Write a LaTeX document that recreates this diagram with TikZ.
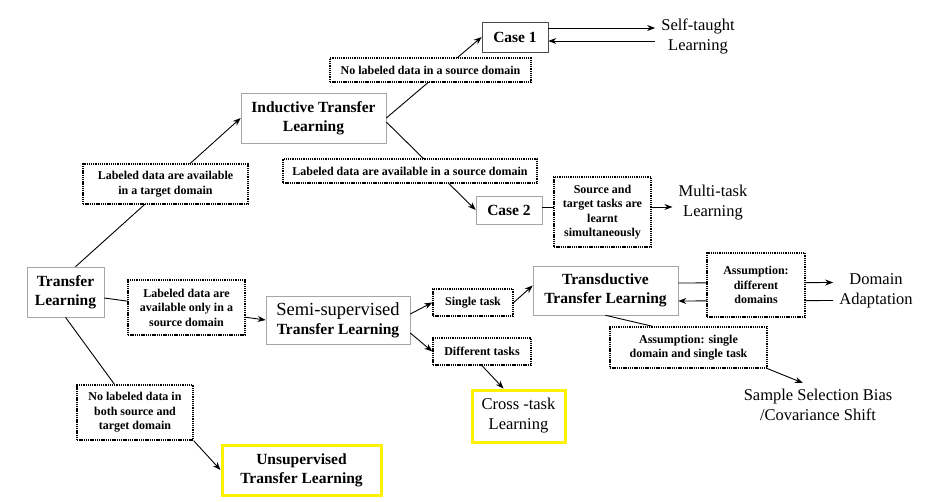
\documentclass[tikz,border=0pt]{standalone}
\usepackage{fontspec}
\setmainfont{Liberation Serif}
\usetikzlibrary{arrows.meta, positioning}

\begin{document}
\begin{tikzpicture}[
    x=1pt, y=-1pt,
    mainbox/.style={rectangle, draw=gray!70, line width=0.6pt, align=center, font=\fontsize{15.5}{19}\selectfont\bfseries, inner sep=2pt},
    goalbox/.style={rectangle, draw=yellow, line width=3pt, align=center, inner sep=2pt},
    cond/.style={rectangle, draw, fill=white, line width=1.4pt, dash pattern=on 1.3pt off 0.9pt, align=center, font=\fontsize{12}{14.5}\selectfont\bfseries, inner sep=2pt},
    result/.style={align=center, font=\fontsize{16.5}{20}\selectfont, inner sep=6pt},
    arrow/.style={-{Stealth[length=8pt, width=6pt]}, line width=0.9pt},
    link/.style={line width=0.9pt}
]
    \useasboundingbox (0,0) rectangle (934,501);

    % Learning settings
    \node[mainbox, minimum width=77pt, minimum height=50pt] (tl) at (65.5,292) {Transfer\\Learning};
    \node[mainbox, minimum width=145pt, minimum height=50pt] (ind) at (313.5,118) {Inductive Transfer\\Learning};
    \node[mainbox, draw=black!70, minimum width=66pt, minimum height=30pt] (case1) at (515,37) {Case 1};
    \node[mainbox, minimum width=66pt, minimum height=28pt] (case2) at (509,210) {Case 2};
    \node[mainbox, minimum width=144pt, minimum height=48pt] (semi) at (338,320) {{\fontsize{18.5}{22}\selectfont\mdseries Semi-supervised}\\Transfer Learning};
    \node[mainbox, minimum width=145pt, minimum height=49pt] (trans) at (605.5,290.5) {Transductive\\Transfer Learning};
    \node[goalbox, font=\fontsize{15.5}{19}\selectfont\bfseries, minimum width=159pt, minimum height=50pt] (unsup) at (301.5,470) {Unsupervised\\Transfer Learning};
    \node[goalbox, font=\fontsize{16.5}{20}\selectfont, minimum width=93pt, minimum height=52pt] (cross) at (518.5,416) {Cross -task\\Learning};

    % Outcomes
    \node[result] (self) at (698,36) {Self-taught\\Learning};
    \node[result] (multi) at (713,203) {Multi-task\\Learning};
    \node[result] (domad) at (876,291) {Domain\\Adaptation};
    \node[result] (ssb) at (818,405) {Sample Selection Bias\\/Covariance Shift};

    % Straight links (condition boxes sit on top)
    \draw[arrow] ([xshift=10pt]tl.north) -- (ind.west);
    \draw[arrow] (ind.east) -- (case1.west);
    \draw[arrow] ([yshift=-4pt]ind.east) -- (case2.west);
    \draw[arrow] ([yshift=-6pt]tl.east) -- (semi.west);
    \draw[arrow] ([yshift=3pt]case2.east) -- ([yshift=-4pt]multi.west);
    \draw[arrow] ([yshift=9pt]case1.east) -- ([yshift=8pt]self.west);
    \draw[arrow] ([yshift=-5pt]self.west) -- ([yshift=-4pt]case1.east);
    \draw[arrow] ([yshift=7.5pt]trans.east) -- ([yshift=8.5pt]domad.west);
    \draw[arrow] ([yshift=-9.5pt]domad.west) -- ([yshift=-10.5pt]trans.east);

    % Conditions
    \node[cond, minimum width=165pt, minimum height=40pt] (ltgt) at (165.5,184) {Labeled data are available\\in a target domain};
    \node[cond, minimum width=201pt, minimum height=24pt] (lnosrc) at (430.5,70) {No labeled data in a source domain};
    \node[cond, minimum width=254pt, minimum height=24pt] (lsrc) at (410,171) {Labeled data are available in a source domain};
    \node[cond, minimum width=117pt, minimum height=55pt] (lonly) at (186.5,307.5) {Labeled data are\\available only in a\\source domain};
    \node[cond, minimum width=116pt, minimum height=55pt] (lboth) at (135,412.5) {No labeled data in\\both source and\\target domain};
    \node[cond, minimum width=97pt, minimum height=70pt] (lsim) at (602.5,212) {Source and\\target tasks are\\learnt\\simultaneously};
    \node[cond, minimum width=80pt, minimum height=27pt] (lsingle) at (473,302.5) {Single task};
    \node[cond, minimum width=98pt, minimum height=27pt] (ldiff) at (482,351.5) {Different tasks};
    \node[cond, minimum width=98pt, minimum height=64pt] (ldiffdom) at (756,285) {Assumption:\\different\\domains};
    \node[cond, minimum width=157pt, minimum height=41pt] (lsingdom) at (688.5,347.5) {Assumption: single\\domain and single task};

    % Links through conditions
    \draw[link] (tl.south) -- (lboth);
    \draw[arrow] (lboth.south east) -- (unsup.west);
    \draw[arrow] ([yshift=6pt]semi.east) -- (lsingle.west);
    \draw[arrow] (lsingle.east) -- ([yshift=5pt]trans.west);
    \draw[arrow] ([yshift=-13pt]semi.east) -- (ldiff.west);
    \draw[arrow] (ldiff.south) -- ([xshift=-15pt]cross.north);
    \draw[link] (trans.south) -- ([xshift=-36pt]lsingdom.north);
    \draw[arrow] (lsingdom.south east) -- ([xshift=-15pt]ssb.north);
\end{tikzpicture}
\end{document}
